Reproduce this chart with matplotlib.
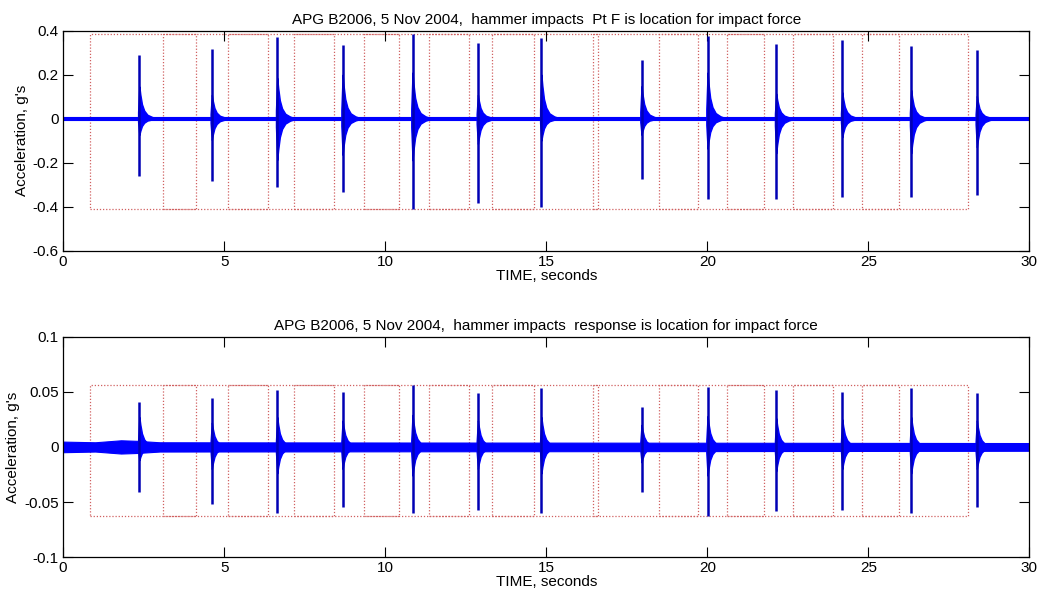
import numpy as np
import matplotlib
matplotlib.use("Agg")
import matplotlib.pyplot as plt
from matplotlib.patches import Rectangle

# ---------------- data ----------------
impact_t = [2.37, 4.62, 6.65, 8.68, 10.85, 12.88, 14.85, 17.96, 20.01, 22.14, 24.19, 26.33, 28.37]

top_pos = [0.29, 0.317, 0.371, 0.336, 0.385, 0.344, 0.367, 0.265, 0.374, 0.341, 0.356, 0.332, 0.31]
top_neg = [-0.26, -0.285, -0.309, -0.332, -0.412, -0.385, -0.40, -0.276, -0.367, -0.367, -0.355, -0.355, -0.347]
top_ring_up = [0.146, 0.108, 0.185, 0.20, 0.21, 0.108, 0.20, 0.148, 0.21, 0.114, 0.12, 0.13, 0.103]
top_ring_dn = [-0.074, -0.097, -0.188, -0.165, -0.19, -0.115, -0.10, -0.074, -0.137, -0.158, -0.085, -0.158, -0.13]

bot_pos = [0.041, 0.044, 0.052, 0.050, 0.0558, 0.049, 0.053, 0.036, 0.054, 0.0515, 0.050, 0.053, 0.049]
bot_neg = [-0.041, -0.052, -0.060, -0.054, -0.060, -0.057, -0.060, -0.041, -0.063, -0.0585, -0.0576, -0.060, -0.054]
bot_ring_up = [0.027, 0.022, 0.027, 0.024, 0.029, 0.024, 0.027, 0.020, 0.028, 0.026, 0.025, 0.027, 0.024]
bot_ring_dn = [-0.012, -0.020, -0.024, -0.020, -0.026, -0.020, -0.024, -0.014, -0.026, -0.022, -0.020, -0.024, -0.020]

# decay envelope of each ring-down (seconds after impact, fraction of ring amplitude)
tail_dt = [-0.04, 0.0, 0.03, 0.08, 0.15, 0.25, 0.40, 0.60]
tail_frac = [0.2, 1.0, 0.75, 0.45, 0.25, 0.12, 0.05, 0.0]

# background noise half-width
top_noise_t = [0, 30]
top_noise_hw = [0.007, 0.007]
bot_noise_t = [0, 1.0, 1.8, 2.3, 3.0, 10, 20, 30]
bot_noise_hw = [0.0048, 0.0042, 0.006, 0.0055, 0.0042, 0.004, 0.0038, 0.0035]

# analysis windows: start before impact and length (s)
win_pre = 1.52
win_len = 3.27
t_end = 30.0

xticks = [0, 5, 10, 15, 20, 25, 30]
top_yticks = [-0.6, -0.4, -0.2, 0, 0.2, 0.4]
top_ylabels = ["-0.6", "-0.4", "-0.2", "0", "0.2", "0.4"]
bot_yticks = [-0.1, -0.05, 0, 0.05, 0.1]
bot_ylabels = ["-0.1", "-0.05", "0", "0.05", "0.1"]

titles = ["APG B2006, 5 Nov 2004,  hammer impacts  Pt F is location for impact force",
          "APG B2006, 5 Nov 2004,  hammer impacts  response is location for impact force"]
xlabel = "TIME, seconds"
ylabel = "Acceleration, g's"

# ---------------- drawing ----------------
plt.rcParams['font.family'] = ['Liberation Sans', 'DejaVu Sans']
FS = 11

fig = plt.figure(figsize=(10.42, 5.97), dpi=100)
ax1 = fig.add_axes([0.0605, 0.5804, 0.9274, 0.3682])
ax2 = fig.add_axes([0.0605, 0.0665, 0.9274, 0.3698])

BLUE = "#0000ff"
SPIKE = "#0000b4"
RED = "#d06060"

def draw(ax, pos, neg, rup, rdn, nt, nhw, yticks, ylabels, ylim, title):
    # noise band
    ax.fill_between(nt, [-h for h in nhw], nhw, color=BLUE, lw=0.8, zorder=2)
    for i, t in enumerate(impact_t):
        x = [t + d for d in tail_dt]
        up = [rup[i] * f for f in tail_frac]
        dn = [rdn[i] * f for f in tail_frac]
        ax.fill_between(x, dn, up, color=BLUE, lw=1.0, zorder=3)
        ax.vlines(t, neg[i], pos[i], color=SPIKE, lw=1.8, zorder=4)
    # analysis windows
    ylo, yhi = min(neg), max(pos)
    for t in impact_t:
        s = t - win_pre
        if s + win_len <= t_end:
            ax.add_patch(Rectangle((s, ylo), win_len, yhi - ylo, fill=False,
                                   edgecolor=RED, lw=0.9, ls=(0, (1, 1.5)), zorder=1))
    ax.set_xlim(0, 30)
    ax.set_ylim(*ylim)
    ax.set_xticks(xticks)
    ax.set_xticklabels([str(v) for v in xticks], fontsize=FS)
    ax.set_yticks(yticks)
    ax.set_yticklabels(ylabels, fontsize=FS)
    ax.tick_params(direction='in', length=7, width=0.8, top=True, right=True, pad=3)
    for sp in ax.spines.values():
        sp.set_linewidth(0.9)
    ax.set_title(title, fontsize=FS, pad=5)
    ax.set_xlabel(xlabel, fontsize=FS, labelpad=0)
    ax.set_ylabel(ylabel, fontsize=FS, labelpad=3)

draw(ax1, top_pos, top_neg, top_ring_up, top_ring_dn, top_noise_t, top_noise_hw,
     top_yticks, top_ylabels, (-0.6, 0.4), titles[0])
draw(ax2, bot_pos, bot_neg, bot_ring_up, bot_ring_dn, bot_noise_t, bot_noise_hw,
     bot_yticks, bot_ylabels, (-0.1, 0.1), titles[1])

fig.savefig("out.png", dpi=100)
